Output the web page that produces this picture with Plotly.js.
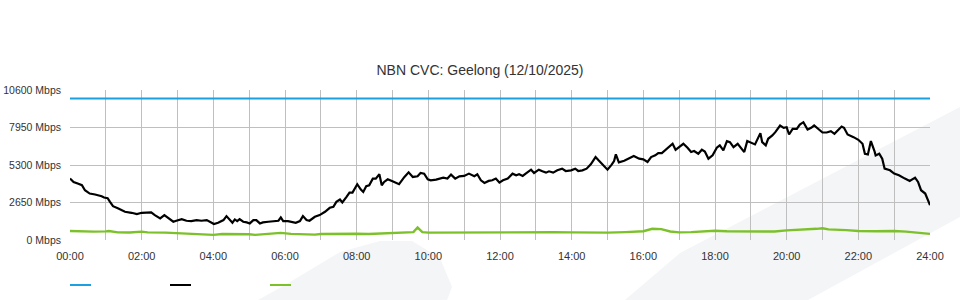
<!DOCTYPE html>
<html>
<head>
<meta charset="utf-8">
<script src="https://cdn.plot.ly/plotly-3.0.1.min.js"></script>
<style>
  html, body { margin: 0; padding: 0; background: #ffffff; }
  #chart { width: 960px; height: 300px; }
</style>
</head>
<body>
<div id="chart"></div>
<script>
// ---- Data ----
const chartTitle = 'NBN CVC: Geelong (12/10/2025)';

const capacityTimes  = ['00:00', '24:00'];
const capacityValues = [10000, 10000];

const trafficTimes = [
  '00:00','00:06','00:14','00:20','00:25','00:33','00:42','00:47','00:53','00:57',
  '01:03','01:07','01:12','01:21','01:32','01:43','01:52','02:00','02:08','02:16',
  '02:22','02:31','02:38','02:45','02:53','02:58','03:07','03:15','03:23','03:32',
  '03:40','03:49','03:54','04:01','04:08','04:17','04:22','04:28','04:32','04:36',
  '04:40','04:44','04:50','04:56','05:01','05:07','05:12','05:18','05:23','05:32',
  '05:40','05:49','05:53','05:57','06:05','06:14','06:18','06:25','06:30','06:36',
  '06:41','06:50','06:58','07:07','07:15','07:21','07:26','07:32','07:36','07:43',
  '07:48','07:53','08:01','08:07','08:11','08:16','08:21','08:27','08:32','08:38',
  '08:42','08:46','08:52','09:00','09:11','09:20','09:27','09:34','09:42','09:47',
  '09:53','09:59','10:04','10:13','10:18','10:25','10:32','10:38','10:45','10:52',
  '11:00','11:08','11:17','11:22','11:28','11:34','11:41','11:47','11:53','11:59',
  '12:05','12:13','12:21','12:27','12:32','12:38','12:43','12:52','12:57','13:05',
  '13:11','13:17','13:22','13:29','13:36','13:44','13:50','13:59','14:06','14:11',
  '14:18','14:25','14:32','14:40','14:45','14:52','15:00','15:07','15:11','15:14',
  '15:19','15:28','15:36','15:44','15:53','16:00','16:07','16:13','16:20','16:25',
  '16:31','16:36','16:42','16:49','16:54','17:01','17:07','17:14','17:20','17:25',
  '17:32','17:38','17:43','17:49','17:56','18:03','18:08','18:14','18:20','18:25',
  '18:31','18:38','18:43','18:49','18:54','19:01','19:07','19:16','19:19','19:25',
  '19:29','19:36','19:41','19:49','19:55','20:00','20:04','20:10','20:17','20:22',
  '20:28','20:35','20:41','20:46','20:52','21:00','21:07','21:14','21:20','21:26',
  '21:32','21:36','21:42','21:52','22:00','22:07','22:11','22:16','22:21','22:27',
  '22:29','22:35','22:40','22:44','22:53','23:00','23:08','23:18','23:26','23:35',
  '23:40','23:45','23:52','24:00'
];
const trafficValues = [
  4338,4100,3980,3870,3517,3283,3213,3166,3095,3000,
  2955,2697,2392,2228,1993,1923,1829,1923,1923,1946,
  1759,1524,1759,1524,1290,1360,1477,1360,1337,1407,
  1360,1407,1290,1125,1219,1407,1688,1407,1219,1453,
  1337,1477,1290,1243,1172,1407,1407,1172,1243,1290,
  1337,1360,1594,1337,1337,1290,1219,1337,1688,1407,
  1360,1641,1759,1993,2275,2345,2697,2861,2650,3049,
  3353,3350,3940,3564,3400,3799,3869,4338,4338,4643,
  3869,4104,4291,4150,3940,4455,4784,4455,4502,4737,
  4690,4291,4221,4268,4338,4408,4338,4620,4338,4502,
  4526,4690,4502,4643,4221,4033,4174,4221,4338,4057,
  4221,4338,4690,4573,4643,4526,4690,4971,4737,4971,
  4854,4760,4854,4760,4924,5041,4877,4924,5041,4877,
  4924,5041,5346,5862,5628,5346,4971,5323,5581,6050,
  5487,5604,5768,5933,5745,5700,5511,5863,5980,6144,
  6144,6332,6519,6800,6378,6613,6800,6519,6214,6285,
  6097,6378,6260,5745,5980,6519,6683,6332,6988,6918,
  6566,6800,6519,6214,6988,6871,6754,7551,6918,6683,
  7152,7387,7621,8090,7926,7973,7457,7856,7856,8161,
  8325,7809,7926,8090,7856,7598,7598,7692,7504,7786,
  8020,7926,7457,7270,7082,6800,6097,6050,6988,6285,
  5980,6097,5745,5042,4924,4690,4573,4338,4174,4408,
  4104,3517,3283,2462
];

const usageTimes = [
  '00:00','00:20','00:30','00:40','01:00','01:05','01:20','01:40','02:00','02:10',
  '02:40','03:00','03:30','04:00','04:15','04:40','05:00','05:10','05:30','05:53',
  '06:10','06:30','06:50','07:00','07:30','08:00','08:20','08:40','09:00','09:20',
  '09:35','09:42','09:50','10:00','10:30','11:00','11:30','12:00','12:30','13:00',
  '13:30','14:00','14:30','15:00','15:30','16:00','16:15','16:30','16:45','17:00',
  '17:20','17:40','18:00','18:20','18:40','19:00','19:20','19:40','20:00','20:30',
  '20:50','21:00','21:10','21:40','22:00','22:30','22:45','23:00','23:20','23:40',
  '24:00'
];
const usageValues = [
  640,600,620,590,610,640,540,530,590,540,
  520,470,430,360,420,420,410,360,420,500,
  430,400,380,420,450,440,420,450,470,490,
  560,880,560,520,530,540,530,560,550,560,
  550,540,520,520,560,620,790,770,600,540,
  560,600,650,620,620,640,600,600,680,720,
  790,830,750,700,640,620,650,640,590,520,
  430
];

const yTickValues = [0, 2650, 5300, 7950, 10600];
const yTickLabels = ['0 Mbps', '2650 Mbps', '5300 Mbps', '7950 Mbps', '10600 Mbps'];
const xTickLabels = ['00:00','02:00','04:00','06:00','08:00','10:00','12:00',
                     '14:00','16:00','18:00','20:00','22:00','24:00'];

// ---- helpers ----
function toHours(t) {
  const p = t.split(':');
  return Number(p[0]) + Number(p[1]) / 60;
}

const COL_CAP = '#1ba1e2';
const COL_TRAFFIC = '#000000';
const COL_USAGE = '#7cc12a';
const GRID = '#bfbfbf';
const FONT = 'Liberation Sans, Arial, sans-serif';

// hourly grid, labels every two hours
const hourVals = [];
const hourText = [];
for (let h = 0; h <= 24; h++) {
  hourVals.push(h);
  hourText.push(h % 2 === 0 ? xTickLabels[h / 2] : '');
}

const traces = [
  {
    x: capacityTimes.map(toHours), y: capacityValues,
    type: 'scatter', mode: 'lines',
    line: { color: COL_CAP, width: 2 },
    hoverinfo: 'skip', showlegend: false
  },
  {
    x: trafficTimes.map(toHours), y: trafficValues,
    type: 'scatter', mode: 'lines',
    line: { color: COL_TRAFFIC, width: 2.2 },
    hoverinfo: 'skip', showlegend: false
  },
  {
    x: usageTimes.map(toHours), y: usageValues,
    type: 'scatter', mode: 'lines',
    line: { color: COL_USAGE, width: 2.4 },
    hoverinfo: 'skip', showlegend: false
  }
];

// pixel -> paper helpers for decorative shapes (plot area 70..930 x, 90..240 y)
function px(X) { return (X - 70) / 860; }
function py(Y) { return (240 - Y) / 150; }
function poly(pts) {
  return 'M ' + pts.map(p => px(p[0]).toFixed(4) + ',' + py(p[1]).toFixed(4)).join(' L ') + ' Z';
}

const bgFill = '#f4f5f7';
const shapes = [
  {
    type: 'path', xref: 'paper', yref: 'paper', layer: 'below',
    path: poly([[625,300],[680,253],[960,107],[960,217],[808,300]]),
    fillcolor: bgFill, line: { width: 0 }
  },
  {
    type: 'path', xref: 'paper', yref: 'paper', layer: 'below',
    path: poly([[258,300],[285,285],[340,252],[380,241],[412,241],[440,258],[452,287],[447,300]]),
    fillcolor: bgFill, line: { width: 0 }
  }
];

// legend swatches (no text in the reference)
const legendColors = [COL_CAP, COL_TRAFFIC, COL_USAGE];
legendColors.forEach((c, i) => {
  shapes.push({
    type: 'line', xref: 'paper', yref: 'paper',
    x0: px(70 + i * 100), x1: px(91 + i * 100),
    y0: py(285), y1: py(285),
    line: { color: c, width: 2 }
  });
});

const layout = {
  width: 960, height: 300,
  margin: { l: 70, r: 30, t: 90, b: 60, pad: 0 },
  paper_bgcolor: '#ffffff',
  plot_bgcolor: 'rgba(0,0,0,0)',
  font: { family: FONT, size: 11, color: '#333333' },
  title: {
    text: chartTitle,
    font: { family: FONT, size: 14, color: '#333333' },
    x: 0.5, xanchor: 'center',
    y: 0.765, yanchor: 'middle', yref: 'container'
  },
  showlegend: false,
  xaxis: {
    range: [0, 24],
    tickmode: 'array', tickvals: hourVals, ticktext: hourText,
    showgrid: true, gridcolor: GRID, gridwidth: 1,
    zeroline: false, showline: false, ticks: '',
    ticklabelstandoff: 8,
    tickfont: { family: FONT, size: 11, color: '#333333' },
    fixedrange: true
  },
  yaxis: {
    range: [0, 10600],
    tickmode: 'array', tickvals: yTickValues, ticktext: yTickLabels,
    showgrid: true, gridcolor: GRID, gridwidth: 1,
    zeroline: false, showline: false, ticks: '',
    ticklabelstandoff: 8,
    tickfont: { family: FONT, size: 10.5, color: '#333333' },
    fixedrange: true
  },
  shapes: shapes
};

Plotly.newPlot('chart', traces, layout, { displayModeBar: false, staticPlot: true });
</script>
</body>
</html>
